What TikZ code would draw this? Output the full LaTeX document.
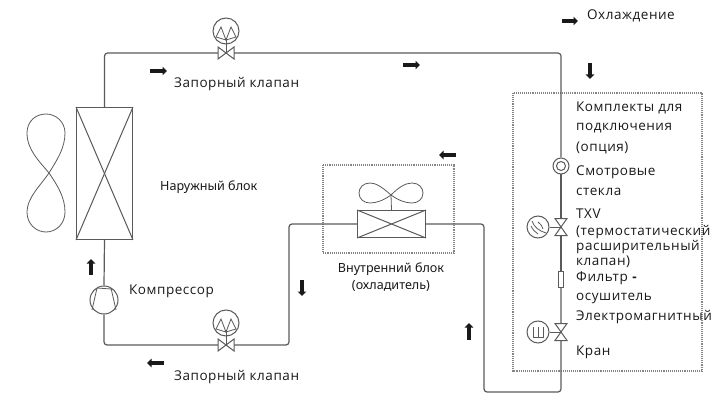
\documentclass[tikz,border=0pt]{standalone}
\usepackage{fontspec}
\setmainfont{Open Sans}
\newfontfamily\blockfont{Noto Sans}
\usepackage{xcolor}
\usetikzlibrary{arrows.meta,calc}
\definecolor{pipe}{HTML}{5A5A5A}
\definecolor{boxline}{HTML}{858585}
\tikzset{
	pipeline/.style={draw=pipe,line width=1.2pt,rounded corners=3pt},
	part/.style={draw=pipe,line width=1pt},
	thinpart/.style={draw=pipe,line width=0.8pt},
	dotbox/.style={draw=boxline,line width=1.1pt,densely dotted},
	flow/.style={line width=3.2pt,draw=black!90,-{Triangle[length=4.5pt,width=8.5pt]}},
	label/.style={anchor=west,inner sep=0pt,text=black!90,font=\fontsize{13.5}{15}\selectfont\addfontfeatures{LetterSpace=4}},
	blocklabel/.style={inner sep=0pt,text=black!90,font=\blockfont\fontsize{12.6}{17}\selectfont,align=center},
}
% bowtie valve, lying along the pipe
\newcommand{\valveh}[1]{\filldraw[part,fill=white] ($(#1)+(-8,-6)$) -- ($(#1)+(8,6)$) -- ($(#1)+(8,-6)$) -- ($(#1)+(-8,6)$) -- cycle;}
\newcommand{\valvev}[1]{\filldraw[part,fill=white] ($(#1)+(-6,-8.5)$) -- ($(#1)+(6,8.5)$) -- ($(#1)+(-6,8.5)$) -- ($(#1)+(6,-8.5)$) -- cycle;}
\begin{document}
\begin{tikzpicture}[x=1pt,y=-1pt]
	\useasboundingbox (0,0) rectangle (718,393);

	% Dotted boxes
	\draw[dotbox] (323,165) rectangle (454,253);
	\draw[dotbox] (513,93) rectangle (702,371);

	% Outdoor coil
	\node[part,minimum width=56pt,minimum height=132pt,inner sep=0pt,anchor=north west] (coilout) at (76,107) {};
	\draw[part] (coilout.north west) -- (coilout.south east);
	\draw[part] (coilout.north east) -- (coilout.south west);

	% Outdoor fan
	\draw[thinpart] (49,173) .. controls (40,162) and (27,150) .. (27,133)
		.. controls (27,121) and (36,114) .. (46,114)
		.. controls (56,114) and (65,122) .. (65,133)
		.. controls (65,148) and (57,160) .. (49,173)
		.. controls (40,186) and (27,198) .. (27,212)
		.. controls (27,224) and (36,232) .. (46,232)
		.. controls (56,232) and (65,224) .. (65,212)
		.. controls (65,198) and (58,186) .. (49,173);

	% Indoor coil
	\node[part,minimum width=68pt,minimum height=27pt,inner sep=0pt,anchor=north west] (coilin) at (357,210) {};
	\draw[part] (coilin.north west) -- (coilin.south east);
	\draw[part] (coilin.north east) -- (coilin.south west);

	% Indoor fan
	\coordinate (fanin) at (391,195);
	\draw[thinpart] (fanin) -- (coilin.north);
	\draw[thinpart] (fanin) .. controls (382,187) and (376,183) .. (370,183)
		.. controls (363,183) and (359,188) .. (359,193)
		.. controls (359,199) and (364,203) .. (370,203)
		.. controls (377,203) and (384,200) .. (391,195)
		.. controls (398,188) and (405,183) .. (412,183)
		.. controls (419,183) and (423,188) .. (423,193)
		.. controls (423,199) and (418,203) .. (412,203)
		.. controls (405,203) and (398,200) .. (fanin);

	% Fixed points of the pipes
	\coordinate (valvetop) at (226,53);
	\coordinate (valvebot) at (226,345);
	\coordinate (valvetxv) at (561,227);
	\coordinate (valvesol) at (561,332);
	\node[circle,part,minimum size=28pt,inner sep=0pt] (compr) at (104,300) {};
	\node[circle,part,minimum size=16pt,inner sep=0pt] (glass) at (561,166) {};
	\node[part,minimum width=5pt,minimum height=16pt,inner sep=0pt] (filter) at (561,279) {};

	% Pipes
	\draw[pipeline] (coilout.north) |- (valvetop) -- (561,53) -- (glass.north);
	\draw[pipeline] (glass.south) -- (valvetxv) -- (filter.north);
	\draw[pipeline] (filter.south) -- (valvesol) -- (561,392) -- (484,392) -- (484,224) -- (coilin.east);
	\draw[pipeline] (coilin.west) -- (289,224) -- (289,345) -- (valvebot) -- (104,345) -- (compr.south);
	\draw[pipeline] (compr.north) -- (coilout.south);
	\node[circle,part,minimum size=9pt,inner sep=0pt] (glassin) at (glass) {};

	% Shut-off valves
	\foreach \v in {valvetop,valvebot} {
		\valveh{\v}
		\draw[part] (\v) -- ++(0,-13);
		\draw[part] ($(\v)+(0,-22)$) circle (13);
		\draw[thinpart] ($(\v)+(0,-13)$) -- ++(-10,-3) -- ++(5,-10) -- cycle;
		\draw[thinpart] ($(\v)+(0,-13)$) -- ++(10,-3) -- ++(-5,-10) -- cycle;
	}

	% Compressor
	\draw[thinpart] (97,288) -- (92,310);
	\draw[thinpart] (111,288) -- (116,310);
	\draw[thinpart] (97,288) -- (111,289);

	% TXV
	\valvev{valvetxv}
	\node[circle,part,minimum size=22pt,inner sep=0pt] (headtxv) at (538,227) {};
	\draw[part] (headtxv.east) -- (valvetxv);
	\draw[thinpart] (532,221) .. controls (534,227) and (539,231) .. (546,233);
	\draw[thinpart] (538,222) .. controls (541,224) and (542,226) .. (543,229);
	\draw[thinpart] (531,226) .. controls (533,230) and (535,232) .. (538,234);

	% Solenoid valve
	\valvev{valvesol}
	\node[circle,part,minimum size=22pt,inner sep=0pt] (headsol) at (538,332) {};
	\draw[part] (headsol.east) -- (valvesol);
	\draw[thinpart] (533,327) -- (533,337) -- (543,337) -- (543,327);
	\draw[thinpart] (538,327) -- (538,337);

	% Flow arrows
	\draw[flow] (150,71) -- (167,71);
	\draw[flow] (403,65) -- (420,65);
	\draw[flow] (562,21) -- (578,21);
	\draw[flow] (590,63) -- (590,79);
	\draw[flow] (456,155) -- (439,155);
	\draw[flow] (302,280) -- (302,296);
	\draw[flow] (469,340) -- (469,323);
	\draw[flow] (164,363) -- (147,363);
	\draw[flow] (91,275) -- (91,259);

	% Labels
	\node[label] (lbltop) at (174,84) {Запорный клапан};
	\node[label] (lblbot) at (174,377) {Запорный клапан};
	\node[label] (lblcompr) at (129,291) {Компрессор};
	\node[label] (lblcool) at (587,16) {Охлаждение};
	\node[blocklabel,anchor=west] (lblout) at (160,187) {Наружный блок};
	\node[blocklabel] (lblin) at (391,277.5) {Внутренний блок\\(охладитель)};

	\node[label] (lblkit1) at (576,108) {Комплекты для};
	\node[label] (lblkit2) at (576,128) {подключения};
	\node[label] (lblkit3) at (576,148) {(опция)};
	\node[label] (lblglass1) at (576,172) {Смотровые};
	\node[label] (lblglass2) at (576,192) {стекла};
	\node[label] (lbltxv1) at (576,214) {TXV};
	\node[label] (lbltxv2) at (576,232) {(термостатический};
	\node[label] (lbltxv3) at (576,247) {расширительный};
	\node[label] (lbltxv4) at (576,262) {клапан)};
	\node[label] (lblfilt1) at (576,278) {Фильтр \textbf{-}};
	\node[label] (lblfilt2) at (576,298) {осушитель};
	\node[label] (lblsol1) at (576,317) {Электромагнитный};
	\node[label] (lblsol2) at (576,352) {Кран};
\end{tikzpicture}
\end{document}
